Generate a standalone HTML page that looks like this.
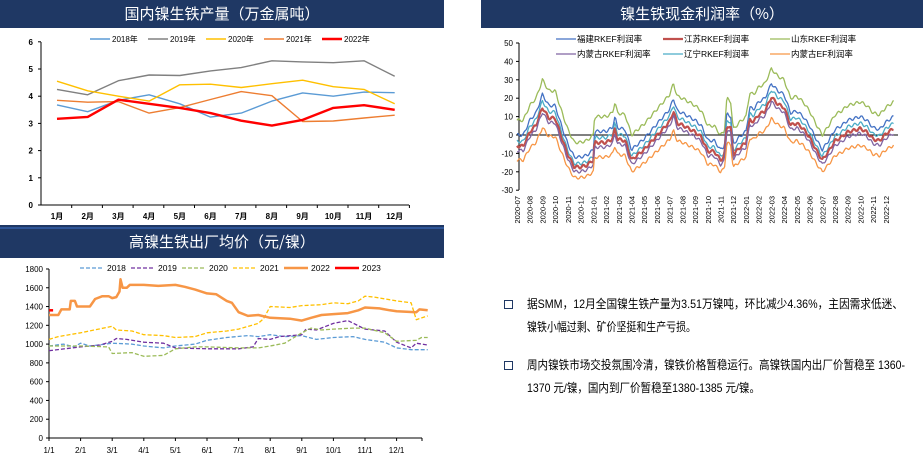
<!DOCTYPE html>
<html><head><meta charset="utf-8"><style>
body{margin:0;width:923px;height:457px;background:#fff;overflow:hidden;font-family:"Liberation Sans","Noto Sans CJK SC",sans-serif;position:relative}
.hd{position:absolute;background:#1f3864;color:#fff;font-size:15px;text-align:center;font-family:"Noto Sans CJK SC",sans-serif}
svg{position:absolute;left:0;top:0}
.bx{position:absolute;left:504px;width:7px;height:7px;border:1.5px solid #1f3864}
</style></head><body>
<div class="hd" style="left:0;top:0;width:444px;height:28px;line-height:28px">国内镍生铁产量（万金属吨）</div>
<div class="hd" style="left:481px;top:0;width:442px;height:28px;line-height:28px">镍生铁现金利润率（%）</div>
<div class="hd" style="left:0;top:225px;width:444px;height:33px;line-height:33px">高镍生铁出厂均价（元/镍）</div>
<div style="position:absolute;left:0;top:227px;width:444px;height:2px;background:#2e5597"></div>
<svg id="s" width="923" height="457" font-family="Liberation Sans, Noto Sans CJK SC, sans-serif"></svg>
<div class="bx" style="top:300px"></div>
<div class="bx" style="top:361px"></div>
<svg width="923" height="457" font-family="Liberation Sans, Noto Sans CJK SC, sans-serif" font-size="12">
<text x="527" y="308" textLength="376" lengthAdjust="spacingAndGlyphs">据SMM，12月全国镍生铁产量为3.51万镍吨，环比减少4.36%，主因需求低迷、</text>
<text x="527" y="331" textLength="169" lengthAdjust="spacingAndGlyphs">镍铁小幅过剩、矿价坚挺和生产亏损。</text>
<text x="527" y="369" textLength="378" lengthAdjust="spacingAndGlyphs">周内镍铁市场交投氛围冷清，镍铁价格暂稳运行。高镍铁国内出厂价暂稳至 1360-</text>
<text x="527" y="392" textLength="233" lengthAdjust="spacingAndGlyphs">1370 元/镍，国内到厂价暂稳至1380-1385 元/镍。</text>
</svg>
<script>
var s=document.getElementById('s'),h='';
function L(x1,y1,x2,y2,c,w){h+='<line x1="'+x1+'" y1="'+y1+'" x2="'+x2+'" y2="'+y2+'" stroke="'+(c||'#000')+'" stroke-width="'+(w||1)+'"/>';}
function T(x,y,t,a,fs,ex){h+='<text x="'+x+'" y="'+y+'" font-size="'+(fs||8)+'" text-anchor="'+(a||'middle')+'" '+(ex||'')+'>'+t+'</text>';}
function P(pts,c,w,d){h+='<polyline fill="none" stroke="'+c+'" stroke-width="'+w+'" '+(d?'stroke-dasharray="'+d+'"':'')+' stroke-linejoin="round" points="'+pts.map(p=>p[0].toFixed(1)+','+p[1].toFixed(1)).join(' ')+'"/>';}
// chart1
var y1=v=>205-v*27.2,x1=i=>57+i*30.7;
L(41,42,41,205);L(41,205,409,205);
for(var v=0;v<=6;v++){L(38,y1(v),41,y1(v));T(33,y1(v)+3,v,'end',8,'font-weight="bold"');}
for(var i=0;i<12;i++){T(x1(i),219,(i+1)+'月','middle',8,'font-weight="bold"');L(41+i*30.7+30.7,205,41+i*30.7+30.7,208);}
var d1=[[3.68,3.43,3.85,4.05,3.72,3.23,3.38,3.82,4.12,4.0,4.15,4.13,'#5b9bd5',1.4,'2018年'],
[4.25,4.05,4.57,4.78,4.76,4.93,5.05,5.3,5.26,5.23,5.3,4.73,'#808080',1.4,'2019年'],
[4.55,4.2,4.0,3.82,4.42,4.44,4.32,4.46,4.59,4.35,4.25,3.72,'#ffc000',1.4,'2020年'],
[3.85,3.78,3.8,3.38,3.58,3.88,4.17,4.02,3.07,3.09,3.2,3.3,'#ed7d31',1.4,'2021年'],
[3.17,3.24,3.87,3.72,3.57,3.38,3.1,2.92,3.13,3.57,3.67,3.5,'#ff0000',2.4,'2022年']];
d1.forEach((d,k)=>{P(d.slice(0,12).map((v,i)=>[x1(i),y1(v)]),d[12],d[13]);var lx=90+k*58;L(lx,39,lx+20,39,d[12],d[13]);T(lx+22,42,d[14],'start',8);});
// chart2
var y2=v=>135-v*1.84,x2=t=>517+t*12.72;
L(519,43,519,190);
for(var v=-30;v<=50;v+=10){L(516,y2(v),519,y2(v));T(513,y2(v)+3,v,'end',8);}
L(519,135,898,135);
var kp=[[0,0],[0.5,0],[1,8],[1.5,12],[2,22],[2.5,16],[3,16],[3.5,5],[4,-5],[4.5,-12],[5,-12],[5.5,-11],[6,-8],[6.1,2],[7,2],[7.5,4],[7.7,10],[7.9,4],[8.5,3],[9,-8],[9.5,-5],[10,-2],[10.5,2],[11,6],[11.5,10],[12,14],[12.3,20],[12.6,13],[13,12],[14,8],[14.5,5],[15,-3],[15.5,-3],[16,-8],[16.3,-6],[16.5,12],[16.8,10],[17,-5],[17.5,-1],[18,2],[18.3,15],[18.6,14],[19,18],[19.5,20],[20,28],[20.5,24],[21,22],[21.5,12],[22,13],[22.5,10],[23,5],[23.5,-2],[24,-8],[24.5,-3],[25,3],[25.5,5],[26,8],[27,10],[27.5,8],[28,4],[28.5,3],[29,7],[29.6,10]];
function base(t){for(var i=1;i<kp.length;i++){if(t<=kp[i][0]){var a=kp[i-1],b=kp[i];return a[1]+(b[1]-a[1])*(t-a[0])/(b[0]-a[0]);}}return 10;}
var ser=[['#9bbb59',8,'山东RKEF利润率',1.3,1.0],['#4472c4',0,'福建RKEF利润率',1.3,1],['#4bacc6',-3.5,'辽宁RKEF利润率',1.3,1],['#c0504d',-6,'江苏RKEF利润率',2.2,0.95],['#8064a2',-8.5,'内蒙古RKEF利润率',1.3,0.95],['#f79646',-13.6,'内蒙古EF利润率',1.3,0.8]];
ser.forEach((sr,k)=>{var pts=[];for(var t=0;t<=29.6;t+=0.08){var b=base(t);pts.push([x2(t),y2(b*sr[4]+sr[1]+Math.sin(t*13+k)*0.8)]);}P(pts,sr[0],sr[3]);});
var lg=[[0,0,1],[1,0,3],[2,0,0],[0,1,4],[1,1,2],[2,1,5]];
lg.forEach(g=>{var sr=ser[g[2]],lx=556+g[0]*107,ly=39+g[1]*15;L(lx,ly,lx+20,ly,sr[0],sr[3]);T(lx+21,ly+3,sr[2],'start',8.5);});
for(var m=0;m<30;m++){var yy=2020+Math.floor((m+6)/12),mm=(m+6)%12+1;T(0,0,yy+'-'+(mm<10?'0':'')+mm,'end',7.5,'transform="translate('+(x2(m)+3)+',196) rotate(-90)"');}
// chart3
var y3=v=>438-v*0.0939,x3=(m,d)=>49+(m-1+(d-1)/30.5)*31.6;
L(49,269,49,438);L(49,438,422,438);
for(var v=0;v<=1800;v+=200){L(46,y3(v),49,y3(v));T(43,y3(v)+3,v,'end',8);}
for(var m=1;m<=12;m++){L(x3(m,1),438,x3(m,1),441);T(x3(m,1),453,m+'/1','middle',8);}
L(422,438,422,441);
function S(a){return a.map(p=>[x3(p[0],p[1]),y3(p[2])]);}
var d18=[[1,1,980],[1,15,1000],[1,25,970],[2,1,1010],[2,10,980],[3,1,1010],[3,20,1000],[4,1,980],[4,20,960],[5,1,980],[5,20,1000],[6,1,1040],[6,20,1070],[7,10,1090],[7,20,1080],[8,1,1100],[8,15,1080],[9,1,1090],[9,15,1050],[10,1,1070],[10,20,1080],[11,1,1050],[11,20,1020],[12,1,960],[12,15,940],[12,31,940]];
var d19=[[1,1,930],[2,1,970],[2,20,990],[3,1,1030],[3,5,1060],[3,15,1050],[4,1,1020],[4,20,1010],[5,1,960],[6,1,950],[7,1,950],[7,15,970],[7,20,1060],[8,1,1050],[8,10,1080],[9,1,1100],[9,5,1160],[9,15,1150],[10,1,1220],[10,15,1250],[11,1,1160],[11,20,1140],[12,1,1020],[12,15,960],[12,20,1010],[12,31,990]];
var d20=[[1,1,980],[2,1,980],[2,28,970],[3,1,900],[3,20,910],[4,1,870],[4,20,880],[5,1,950],[5,20,970],[6,1,970],[7,1,960],[7,20,960],[8,1,980],[8,15,1010],[9,1,1120],[9,10,1170],[9,20,1150],[10,1,1160],[10,20,1170],[11,1,1170],[11,20,1120],[12,1,1030],[12,20,1040],[12,25,1070],[12,31,1070]];
var d21=[[1,1,1050],[1,10,1080],[2,1,1120],[3,1,1190],[3,5,1150],[3,20,1140],[4,1,1100],[4,20,1090],[5,1,1070],[5,20,1080],[6,1,1120],[6,20,1140],[7,1,1160],[7,20,1220],[7,25,1270],[8,1,1400],[8,20,1390],[9,1,1410],[9,20,1420],[10,1,1440],[10,15,1430],[10,25,1460],[11,1,1510],[11,10,1500],[12,1,1460],[12,15,1440],[12,20,1260],[12,31,1300]];
var d22=[[1,1,1310],[1,10,1310],[1,13,1370],[1,21,1370],[1,22,1460],[1,26,1460],[1,28,1400],[2,10,1400],[2,15,1480],[2,22,1510],[2,28,1510],[3,1,1490],[3,5,1500],[3,8,1560],[3,9,1690],[3,11,1600],[3,15,1600],[3,18,1630],[4,1,1630],[4,15,1620],[5,1,1630],[5,10,1610],[5,20,1580],[6,1,1540],[6,10,1530],[6,20,1460],[6,25,1440],[7,1,1340],[7,10,1300],[7,20,1310],[8,1,1280],[8,20,1270],[9,1,1250],[9,10,1280],[9,20,1310],[10,1,1320],[10,15,1330],[10,25,1360],[11,1,1390],[11,15,1380],[11,25,1360],[12,1,1350],[12,20,1340],[12,23,1370],[12,31,1360]];
P(S(d18),'#5b9bd5',1.3,'4,2');P(S(d19),'#7030a0',1.3,'4,2');P(S(d20),'#9bbb59',1.3,'4,2');P(S(d21),'#ffc000',1.3,'4,2');P(S(d22),'#f79646',2.5);
P(S([[1,1,1360],[1,5,1360]]),'#ff0000',2.5);
var l3=[['2018','#5b9bd5',1.3,'4,2'],['2019','#7030a0',1.3,'4,2'],['2020','#9bbb59',1.3,'4,2'],['2021','#ffc000',1.3,'4,2'],['2022','#f79646',2.5,''],['2023','#ff0000',2.5,'']];
l3.forEach((g,k)=>{var lx=80+k*51,ly=268;h+='<line x1="'+lx+'" y1="'+ly+'" x2="'+(lx+24)+'" y2="'+ly+'" stroke="'+g[1]+'" stroke-width="'+g[2]+'" stroke-dasharray="'+g[3]+'"/>';T(lx+27,ly+3,g[0],'start',8.5);});
s.innerHTML=h;
</script>
</body></html>
